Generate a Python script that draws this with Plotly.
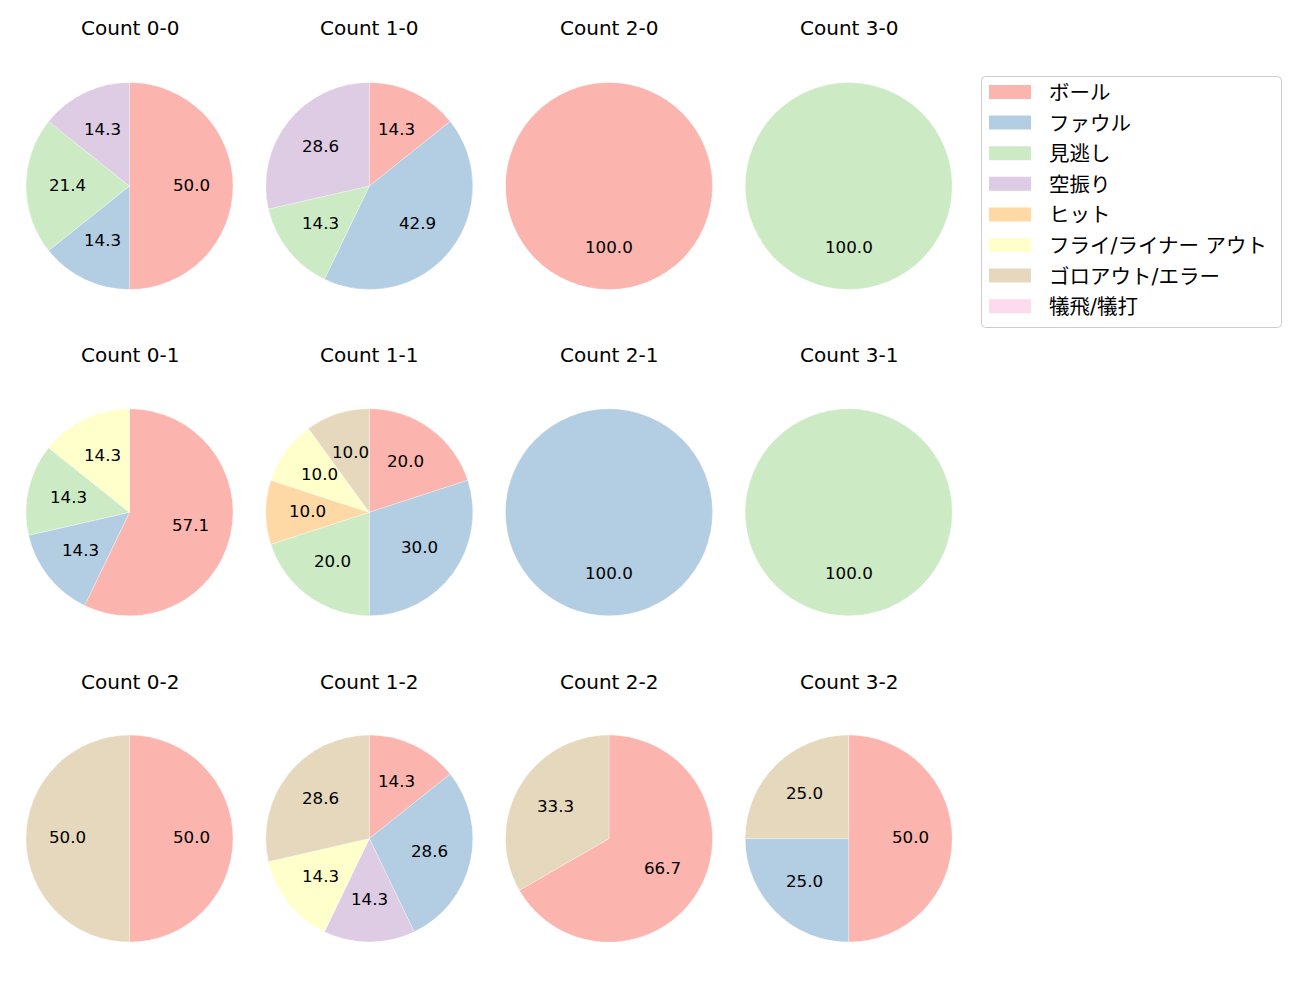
import math
import plotly.graph_objects as go

categories = ["ボール", "ファウル", "見逃し", "空振り", "ヒット",
              "フライ/ライナー アウト", "ゴロアウト/エラー", "犠飛/犠打"]
colors = ["#fbb4ae", "#b3cde3", "#ccebc5", "#decbe4", "#fed9a6",
          "#ffffcc", "#e5d8bd", "#fddaec"]

titles = ["Count 0-0", "Count 1-0", "Count 2-0", "Count 3-0",
          "Count 0-1", "Count 1-1", "Count 2-1", "Count 3-1",
          "Count 0-2", "Count 1-2", "Count 2-2", "Count 3-2"]

# counts per category (same order as categories)
c00 = [7, 2, 3, 2, 0, 0, 0, 0]
c10 = [1, 3, 1, 2, 0, 0, 0, 0]
c20 = [1, 0, 0, 0, 0, 0, 0, 0]
c30 = [0, 0, 1, 0, 0, 0, 0, 0]
c01 = [4, 1, 1, 0, 0, 1, 0, 0]
c11 = [2, 3, 2, 0, 1, 1, 1, 0]
c21 = [0, 1, 0, 0, 0, 0, 0, 0]
c31 = [0, 0, 1, 0, 0, 0, 0, 0]
c02 = [1, 0, 0, 0, 0, 0, 1, 0]
c12 = [1, 2, 0, 1, 0, 1, 2, 0]
c22 = [2, 0, 0, 0, 0, 0, 1, 0]
c32 = [2, 1, 0, 0, 0, 0, 1, 0]
series = [c00, c10, c20, c30, c01, c11, c21, c31, c02, c12, c22, c32]

W, H = 1300, 1000
FONT = "DejaVu Sans, Noto Sans CJK JP, sans-serif"
R = 103.5
col_x = [129.5, 369.3, 609.0, 848.7]
row_y = [186.0, 512.3, 838.6]
title_y = [28.5, 355.5, 681.5]
LABEL_DY = -1.5

fig = go.Figure()
annotations = []
shapes = []

def px(x):
    return x / W

def py(y):
    return 1 - y / H

for i, vals in enumerate(series):
    r_, c_ = divmod(i, 4)
    cx, cy = col_x[c_], row_y[r_]
    labs = [categories[k] for k, v in enumerate(vals) if v > 0]
    vs = [v for v in vals if v > 0]
    cols = [colors[k] for k, v in enumerate(vals) if v > 0]
    fig.add_trace(go.Pie(
        labels=labs, values=vs, sort=False, direction="clockwise", rotation=0,
        marker=dict(colors=cols, line=dict(color="white", width=0.3)),
        textinfo="none", hoverinfo="label+percent", showlegend=False,
        domain=dict(x=[px(cx - R), px(cx + R)], y=[py(cy + R), py(cy - R)]),
    ))
    total = sum(vs)
    cum = 0
    for v in vs:
        th = 2 * math.pi * (cum + v / 2) / total
        tx = cx + 0.6 * R * math.sin(th)
        ty = cy - 0.6 * R * math.cos(th) + LABEL_DY
        annotations.append(dict(
            x=px(tx), y=py(ty), xref="paper", yref="paper",
            text=f"{v / total * 100:.1f}", showarrow=False,
            xanchor="center", yanchor="middle",
            font=dict(size=16.7, color="black", family=FONT)))
        cum += v
    annotations.append(dict(
        x=px(cx), y=py(title_y[r_]), xref="paper", yref="paper",
        text=titles[i], showarrow=False, xanchor="center", yanchor="middle",
        font=dict(size=20, color="black", family=FONT)))

# legend box
lx0, ly0, lx1, ly1, rr = 981.5, 76.5, 1281.5, 327.5, 4
path = (f"M {px(lx0 + rr)},{py(ly0)} L {px(lx1 - rr)},{py(ly0)} "
        f"Q {px(lx1)},{py(ly0)} {px(lx1)},{py(ly0 + rr)} "
        f"L {px(lx1)},{py(ly1 - rr)} Q {px(lx1)},{py(ly1)} {px(lx1 - rr)},{py(ly1)} "
        f"L {px(lx0 + rr)},{py(ly1)} Q {px(lx0)},{py(ly1)} {px(lx0)},{py(ly1 - rr)} "
        f"L {px(lx0)},{py(ly0 + rr)} Q {px(lx0)},{py(ly0)} {px(lx0 + rr)},{py(ly0)} Z")
shapes.append(dict(type="path", path=path, xref="paper", yref="paper",
                   line=dict(color="#cccccc", width=1), fillcolor="rgba(255,255,255,0.8)"))
for k, (lab, col) in enumerate(zip(categories, colors)):
    yc = 92 + k * 30.6
    shapes.append(dict(type="rect", xref="paper", yref="paper",
                       x0=px(989), x1=px(1031), y0=py(yc - 7), y1=py(yc + 7),
                       fillcolor=col, line=dict(width=0)))
    annotations.append(dict(
        x=px(1047), y=py(yc + 1), xref="paper", yref="paper", text=lab,
        showarrow=False, xanchor="left", yanchor="middle",
        font=dict(size=20.5, color="black", family=FONT)))

fig.update_layout(
    width=W, height=H, margin=dict(l=0, r=0, t=0, b=0),
    paper_bgcolor="white", plot_bgcolor="white",
    annotations=annotations, shapes=shapes, showlegend=False,
    font=dict(family=FONT),
)
fig.write_html("out.html")
